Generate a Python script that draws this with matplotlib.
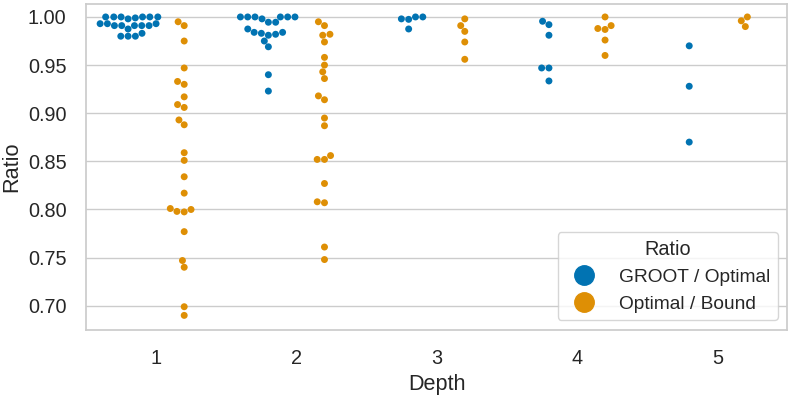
import numpy as np
import pandas as pd
import matplotlib
matplotlib.use("Agg")
import matplotlib.pyplot as plt
import seaborn as sns
from matplotlib.lines import Line2D

# GROOT / Optimal ratios per depth
groot_1 = [1.000, 1.000, 1.000, 1.000, 1.000, 1.000, 0.998, 0.999, 0.993, 0.993, 0.993,
           0.991, 0.991, 0.991, 0.991, 0.991, 0.9875, 0.983, 0.980, 0.980, 0.980]
groot_2 = [1.000, 1.000, 1.000, 1.000, 1.000, 1.000, 0.998, 0.9945, 0.9945, 0.9875,
           0.984, 0.983, 0.981, 0.982, 0.984, 0.975, 0.969, 0.940, 0.923]
groot_3 = [0.998, 0.9975, 1.000, 1.000, 0.9875]
groot_4 = [0.9955, 0.992, 0.981, 0.947, 0.947, 0.9335]
groot_5 = [0.970, 0.928, 0.870]

# Optimal / Bound ratios per depth
bound_1 = [0.995, 0.991, 0.975, 0.947, 0.933, 0.930, 0.917, 0.909, 0.906, 0.893, 0.888,
           0.859, 0.851, 0.834, 0.817, 0.801, 0.798, 0.7975, 0.800, 0.777, 0.747, 0.740,
           0.699, 0.690]
bound_2 = [0.995, 0.991, 0.981, 0.982, 0.974, 0.958, 0.950, 0.943, 0.936, 0.918, 0.914,
           0.895, 0.887, 0.852, 0.852, 0.856, 0.827, 0.808, 0.807, 0.761, 0.748]
bound_3 = [0.998, 0.991, 0.985, 0.974, 0.956]
bound_4 = [1.000, 0.988, 0.987, 0.991, 0.976, 0.960]
bound_5 = [0.996, 1.000, 0.990]

groot = [groot_1, groot_2, groot_3, groot_4, groot_5]
bound = [bound_1, bound_2, bound_3, bound_4, bound_5]
depths = [1, 2, 3, 4, 5]
labels = ["GROOT / Optimal", "Optimal / Bound"]

rows = []
for d, g, b in zip(depths, groot, bound):
    rows += [(d, v, labels[0]) for v in g]
    rows += [(d, v, labels[1]) for v in b]
df = pd.DataFrame(rows, columns=["Depth", "value", "Ratio"])

sns.set_theme(style="whitegrid", font_scale=1.3)
plt.rcParams['font.family'] = ['Liberation Sans', 'DejaVu Sans']

fig, ax = plt.subplots(figsize=(7.89, 3.95), dpi=100)
pal = sns.color_palette("colorblind")
sns.swarmplot(data=df, x="Depth", y="value", hue="Ratio", dodge=True,
              palette=pal[:2], size=5, ax=ax)
ax.set_ylabel("Ratio")
ax.set_xlabel("Depth")
ax.set_ylim(0.675, 1.0135)
ax.tick_params(pad=8)

# bigger legend dots, as in the reference
handles = [Line2D([], [], marker="o", ls="", color=pal[i], markersize=14) for i in range(2)]
ax.legend(handles, labels, title="Ratio", loc="lower right", fontsize=13.8,
          title_fontsize=14.3, borderaxespad=0.5)

fig.subplots_adjust(left=0.109, right=0.998, bottom=0.165, top=0.99)
fig.savefig("out.png", dpi=100)
